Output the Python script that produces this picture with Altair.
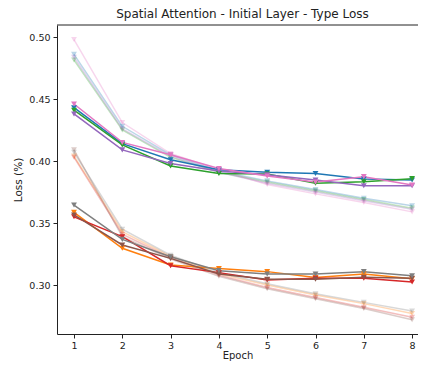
import altair as alt
import pandas as pd

epochs = [1, 2, 3, 4, 5, 6, 7, 8]

# solid runs (upper group)
blue = [0.443, 0.414, 0.401, 0.393, 0.391, 0.390, 0.3855, 0.3847]
green = [0.441, 0.413, 0.396, 0.390, 0.3895, 0.382, 0.3833, 0.3858]
purple = [0.438, 0.409, 0.398, 0.392, 0.389, 0.3847, 0.380, 0.380]
pink = [0.446, 0.415, 0.405, 0.394, 0.388, 0.383, 0.3874, 0.3806]
# solid runs (lower group)
orange = [0.3586, 0.3296, 0.3161, 0.3134, 0.3108, 0.306, 0.3089, 0.305]
red = [0.355, 0.339, 0.3156, 0.310, 0.304, 0.3054, 0.3054, 0.3024]
brown = [0.3565, 0.3323, 0.3215, 0.3089, 0.3046, 0.3046, 0.3062, 0.3054]
gray = [0.3645, 0.3368, 0.3228, 0.3116, 0.3089, 0.3089, 0.3108, 0.3075]

# pale runs (upper group)
blue_pale = [0.486, 0.428, 0.405, 0.392, 0.384, 0.377, 0.370, 0.364]
green_pale = [0.4815, 0.425, 0.403, 0.391, 0.383, 0.376, 0.369, 0.362]
purple_pale = [0.4836, 0.426, 0.404, 0.391, 0.382, 0.375, 0.368, 0.361]
pink_pale = [0.498, 0.431, 0.406, 0.393, 0.381, 0.3735, 0.3665, 0.359]
# pale runs (lower group)
orange_pale = [0.404, 0.343, 0.323, 0.309, 0.300, 0.292, 0.285, 0.277]
red_pale = [0.403, 0.341, 0.322, 0.308, 0.298, 0.290, 0.282, 0.274]
brown_pale = [0.409, 0.339, 0.321, 0.307, 0.297, 0.289, 0.281, 0.272]
gray_pale = [0.407, 0.345, 0.324, 0.310, 0.301, 0.293, 0.286, 0.279]

series_names = ["blue", "orange", "green", "red", "purple", "brown", "pink", "gray"]
series_colors = ["#1f77b4", "#ff7f0e", "#2ca02c", "#d62728",
                 "#9467bd", "#8c564b", "#e377c2", "#7f7f7f"]
solid = [blue, orange, green, red, purple, brown, pink, gray]
pale = [blue_pale, orange_pale, green_pale, red_pale,
        purple_pale, brown_pale, pink_pale, gray_pale]

rows = []
for kind, group in (("pale", pale), ("solid", solid)):
    for name, vals in zip(series_names, group):
        for e, v in zip(epochs, vals):
            rows.append({"epoch": e, "loss": v, "series": name,
                         "key": kind + "_" + name, "kind": kind})
df = pd.DataFrame(rows)

W, H = 361, 309
xs = alt.Scale(domain=[0.648, 8.122], nice=False, zero=False)
ys = alt.Scale(domain=[0.2605, 0.5097], nice=False, zero=False)
cs = alt.Scale(domain=series_names, range=series_colors)

x = alt.X("epoch:Q", scale=xs,
          axis=alt.Axis(values=epochs, format="d", title="Epoch"))
y = alt.Y("loss:Q", scale=ys,
          axis=alt.Axis(values=[0.30, 0.35, 0.40, 0.45, 0.50], format=".2f",
                        title="Loss (%)"))


def layer(kind, op):
    d = df[df["kind"] == kind]
    base = alt.Chart(d).encode(
        x=x, y=y,
        color=alt.Color("series:N", scale=cs, legend=None),
        detail="key:N",
    )
    ln = base.mark_line(strokeWidth=1.5, opacity=op)
    pt = base.mark_point(shape="triangle-down", filled=True, size=34,
                         opacity=op)
    return [ln, pt]


top_border = alt.Chart(pd.DataFrame({"k": [0]})).mark_rule(
    color="#222", strokeWidth=1
).encode(x=alt.value(0), x2=alt.value(W), y=alt.value(0))

chart = alt.layer(*layer("pale", 0.3), *layer("solid", 1.0), top_border).properties(
    width=W, height=H,
    title=alt.TitleParams("Spatial Attention - Initial Layer - Type Loss",
                          fontSize=12, font="DejaVu Sans", fontWeight="normal",
                          color="#222", offset=4, dx=5),
    autosize=alt.AutoSizeParams(type="none"),
    padding={"left": 49, "top": 17, "right": 0, "bottom": 27},
).configure_view(stroke=None).configure_axis(
    grid=False, domain=True, domainColor="#222", domainWidth=1,
    labelFont="DejaVu Sans", titleFont="DejaVu Sans",
    labelFontSize=9.5, titleFontSize=10.5, titleFontWeight="normal",
    labelColor="#222", titleColor="#222", tickColor="#222", tickSize=4,
    labelPadding=3,
).configure_axisY(titlePadding=5).configure_axisX(
    titlePadding=1, labelPadding=2, titleFontSize=10)

chart.save("out.html", embed_options={"renderer": "svg", "actions": False})
